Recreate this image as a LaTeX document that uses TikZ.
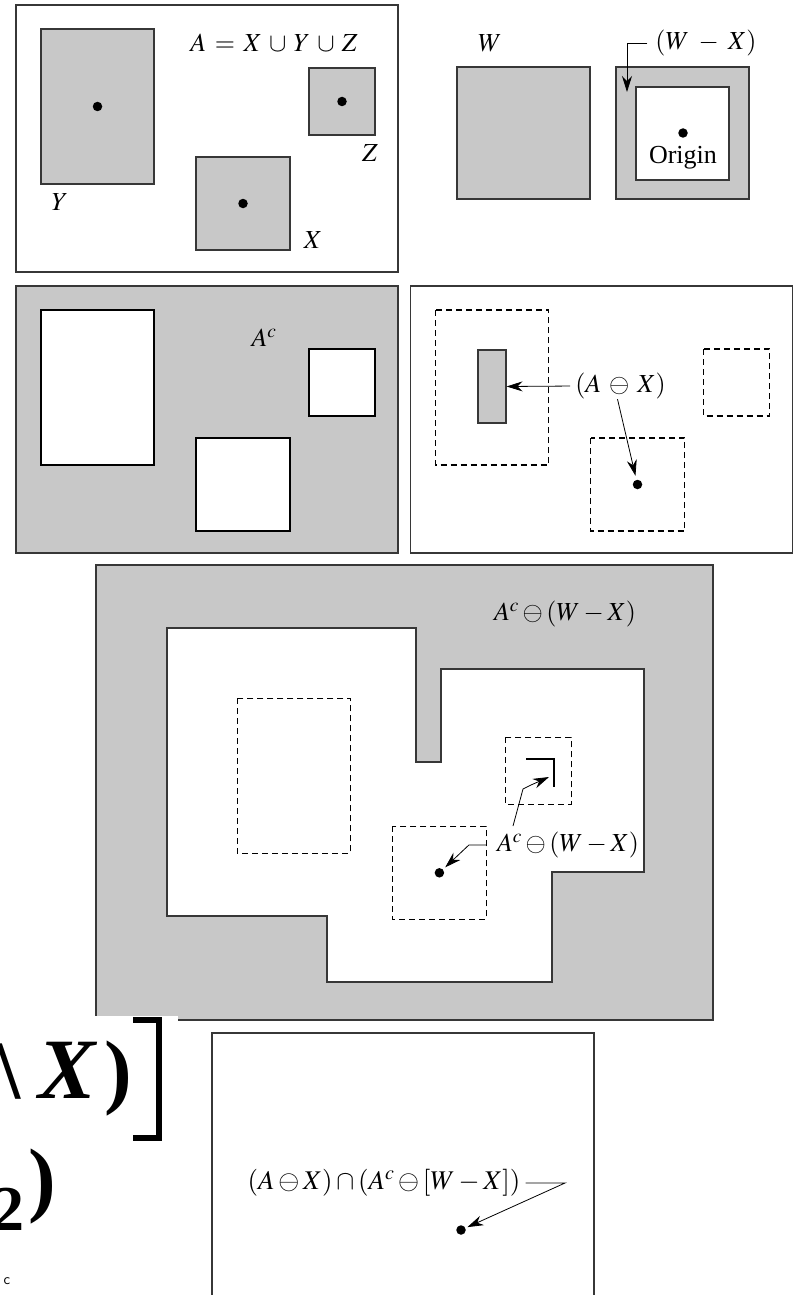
\documentclass[tikz,border=0pt]{standalone}
\usepackage{mathptmx}
\usepackage{fontspec}
\setmainfont{Liberation Serif}
\newfontfamily\fragfont{Liberation Serif}
\usetikzlibrary{arrows.meta}

\definecolor{setfill}{RGB}{200,200,200}
\definecolor{setline}{RGB}{55,55,55}

% wider gaps round the operators of a label
\newcommand{\mathgap}[1]{\medmuskip=#1mu\relax\thickmuskip=6mu\relax}

\tikzset{
  panel/.style={draw=setline, line width=1.2pt},
  setbox/.style={draw=setline, line width=1.2pt, fill=setfill},
  hole/.style={draw=black, line width=1.2pt, fill=white},
  ghost/.style={draw=black, line width=1.1pt, dash pattern=on 6pt off 4pt},
  origin/.style={circle, fill=black, inner sep=0pt, minimum size=9.5pt},
  lbl/.style={font=\fontsize{26}{30}\selectfont, inner sep=0pt},
  pointer/.style={line width=0.8pt, -{Stealth[length=16pt, width=10pt]}},
}

% the three parts X, Y, Z of A, in the frame of the first panel
\newcommand{\drawsetA}[1]{%
  \draw[#1] (41,29) rectangle (154,184);
  \draw[#1] (309,68) rectangle (375,135);
  \draw[#1] (196,157) rectangle (290,250);
}

\begin{document}
\begin{tikzpicture}[x=1pt, y=-1pt]
    % Page of the same size as the reference
    \useasboundingbox[fill=white] (0,0) rectangle (794,1295);

    % Panel 1: the set A
    \draw[panel] (16,5) rectangle (398,272);
    \drawsetA{setbox}
    \node[origin] (ydot) at (97.5,106.5) {};
    \node[origin] (zdot) at (342,101.5) {};
    \node[origin] (xdot) at (243,203.5) {};
    \node[lbl] (alab) at (274,43) {\mathgap{5}$A = X \cup Y \cup Z$};
    \node[lbl] (ylab) at (60,202) {$Y$};
    \node[lbl] (zlab) at (370,153) {$Z$};
    \node[lbl] (xlab) at (313,240) {$X$};

    % Panel 2: W and W - X
    \draw[setbox] (457,67) rectangle (590,199);
    \node[lbl] (wlab) at (490,43) {$W$};
    \draw[setbox] (616,67) rectangle (749,199);
    \draw[hole, draw=setline] (636,87) rectangle (729,180);
    \node[origin] (odot) at (683,133) {};
    \node[lbl] (olab) at (683,158) {Origin};
    \node[lbl] (wxlab) at (706,43) {\mathgap{6.5}$(W - X)$};
    \coordinate (wxbend) at (627,43);
    \coordinate (wxtip) at (627,92);
    \draw[pointer] ([xshift=-8pt]wxlab.west) -- (wxbend) -- (wxtip);

    % Panel 3: the complement of A
    \begin{scope}[shift={(0,281)}]
        \draw[panel, fill=setfill] (16,5) rectangle (398,272);
        \drawsetA{hole}
        \node[lbl] (aclab) at (264,57) {$A^c$};
    \end{scope}

    % Panel 4: erosion of A by X
    \begin{scope}[shift={(394.5,281)}]
        \draw[panel] (16,5) rectangle (398,272);
        \drawsetA{ghost}
        \node[setbox, minimum width=28pt, minimum height=73pt, inner sep=0pt] (axrect) at (97.5,105.5) {};
        \node[origin] (xdot4) at (243,203.5) {};
        \node[lbl] (axlab) at (226,105) {\mathgap{5.5}$(A \ominus X)$};
    \end{scope}
    \draw[pointer, shorten <=5pt] (axlab.west) -- (axrect.east);
    \draw[pointer, shorten >=4pt] ([xshift=-3pt]axlab.south) -- (xdot4);

    % Panel 5: erosion of the complement by W - X
    \draw[setbox] (96,565) rectangle (713,1020);
    \draw[hole, draw=setline] (167,628) -- (416,628) -- (416,762) -- (441,762)
        -- (441,669) -- (644,669) -- (644,872) -- (552,872) -- (552,982)
        -- (327,982) -- (327,916) -- (167,916) -- cycle;
    \begin{scope}[shift={(196.4,669.3)}]
        \drawsetA{ghost}
        \node[origin] (xdot5) at (243,203.5) {};
    \end{scope}
    \draw[line width=2.4pt] (526,759) -- (554,759) -- (554,787);
    \node[lbl] (erolab) at (565,614) {$A^c \ominus (W - X)$};
    \node[lbl] (erolab2) at (568,845) {$A^c \ominus (W - X)$};
    \draw[pointer, shorten >=3pt] ([xshift=-10pt]erolab2.west) -- ++(-18,0) -- (xdot5);
    \coordinate (cornerfoot) at (513,826);
    \coordinate (cornertip) at (549,777);
    \draw[pointer] (cornerfoot) -- ++(10,-37) -- ++(8,-4) -- (cornertip);

    % Pieces of another figure at the bottom left
    \fill[white] (0,1016) rectangle (178,1030);
    \draw[line width=6.5pt] (133,1020) -- (159,1020) -- (159,1138) -- (133,1138);
    \node[anchor=base west, inner sep=0pt] (fragbs) at (-3,1098) {\fontsize{83}{90}\fragfont\bfseries\textbackslash};
    \node[anchor=base west, inner sep=0pt] (fragx) at (38,1098) {\fontsize{86}{90}\fragfont\bfseries\itshape X};
    \node[anchor=base west, inner sep=0pt] (fragp) at (104,1098) {\fontsize{83}{90}\fragfont\bfseries )};
    \node[anchor=base west, inner sep=0pt] (fragtwo) at (-8,1230) {\fontsize{64}{70}\fragfont\bfseries 2};
    \node[anchor=base west, inner sep=0pt] (fragp2) at (28,1206) {\fontsize{83}{90}\fragfont\bfseries )};
    \node[inner sep=0pt, font=\sffamily\fontsize{15}{16}\selectfont] (fragc) at (7,1281) {c};

    % Panel 6: the intersection
    \draw[panel] (212,1300) -- (212,1033) -- (594,1033) -- (594,1300);
    \node[lbl, font=\fontsize{27}{30}\selectfont] (meetlab) at (384,1183) {$(A\ominus X)\cap(A^c\ominus[W - X])$};
    \node[origin] (meetdot) at (461,1230) {};
    \coordinate (meetbend) at (565,1183);
    \draw[pointer, shorten >=2pt] ([xshift=5pt]meetlab.east) -- (meetbend) -- (meetdot);
\end{tikzpicture}
\end{document}
